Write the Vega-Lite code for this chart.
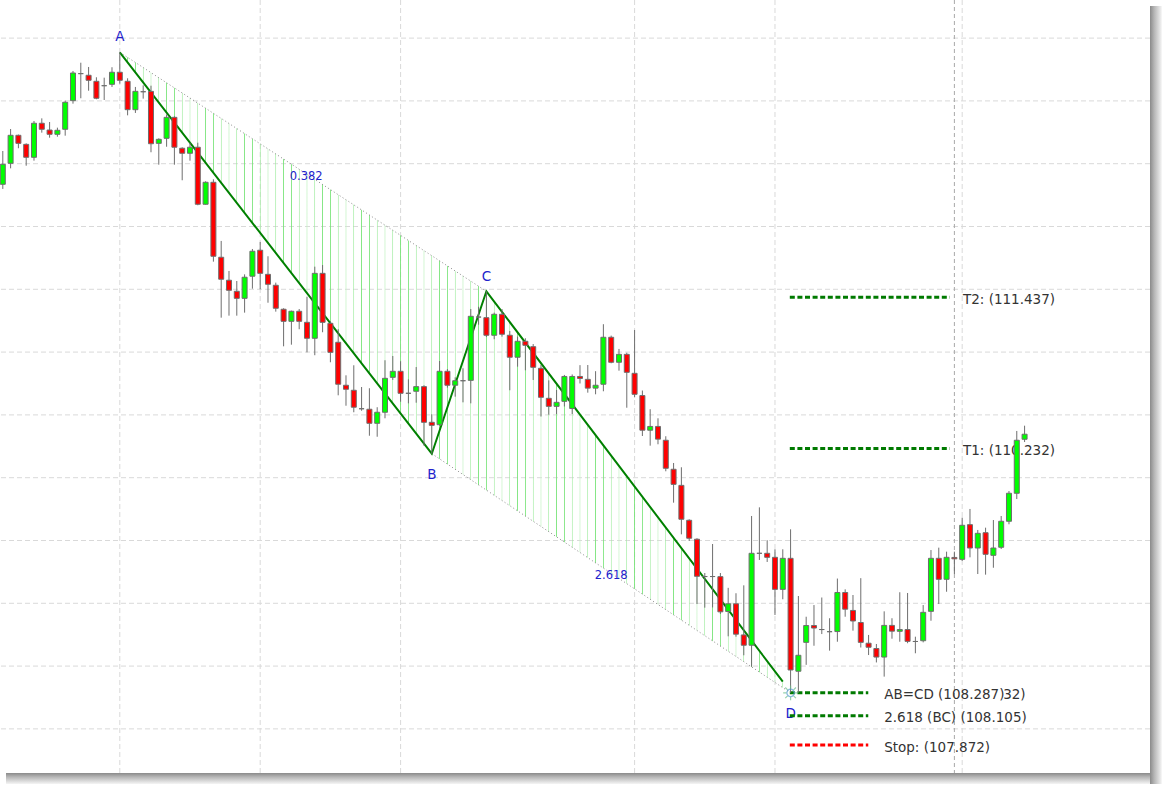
{
  "$schema": "https://vega.github.io/schema/vega-lite/v6.json",
  "width": 1150,
  "height": 773,
  "autosize": "none",
  "padding": {"left": 0, "top": 0, "right": 15, "bottom": 14},
  "background": "#ffffff",
  "config": {
    "view": {"stroke": null},
    "font": "DejaVu Sans",
    "scale": {"continuousPadding": 0},
    "axis": {"disable": true, "domain": false, "ticks": false, "labels": false, "grid": false, "titleOpacity": 0}
  },
  "datasets": {
    "candles": [
      {"x":0,"o":112.336,"h":112.601,"l":112.299,"c":112.495},
      {"x":1,"o":112.503,"h":112.776,"l":112.463,"c":112.726},
      {"x":2,"o":112.726,"h":112.732,"l":112.623,"c":112.662},
      {"x":3,"o":112.654,"h":112.662,"l":112.484,"c":112.551},
      {"x":4,"o":112.551,"h":112.840,"l":112.524,"c":112.822},
      {"x":5,"o":112.822,"h":112.861,"l":112.747,"c":112.774},
      {"x":6,"o":112.768,"h":112.832,"l":112.707,"c":112.734},
      {"x":7,"o":112.734,"h":112.787,"l":112.715,"c":112.766},
      {"x":8,"o":112.774,"h":113.002,"l":112.723,"c":112.989},
      {"x":9,"o":113.002,"h":113.238,"l":112.978,"c":113.222},
      {"x":10,"o":113.217,"h":113.304,"l":113.021,"c":113.217},
      {"x":11,"o":113.204,"h":113.270,"l":113.081,"c":113.164},
      {"x":12,"o":113.156,"h":113.188,"l":113.013,"c":113.021},
      {"x":13,"o":113.121,"h":113.185,"l":113.007,"c":113.121},
      {"x":14,"o":113.132,"h":113.268,"l":113.111,"c":113.228},
      {"x":15,"o":113.228,"h":113.387,"l":113.137,"c":113.164},
      {"x":16,"o":113.156,"h":113.180,"l":112.885,"c":112.930},
      {"x":17,"o":112.930,"h":113.111,"l":112.904,"c":113.076},
      {"x":18,"o":113.073,"h":113.124,"l":113.018,"c":113.073},
      {"x":19,"o":113.076,"h":113.121,"l":112.591,"c":112.659},
      {"x":20,"o":112.662,"h":112.702,"l":112.492,"c":112.694},
      {"x":21,"o":112.702,"h":112.893,"l":112.635,"c":112.869},
      {"x":22,"o":112.869,"h":112.877,"l":112.492,"c":112.631},
      {"x":23,"o":112.623,"h":112.631,"l":112.368,"c":112.583},
      {"x":24,"o":112.583,"h":112.667,"l":112.524,"c":112.631},
      {"x":25,"o":112.631,"h":112.667,"l":112.169,"c":112.177},
      {"x":26,"o":112.177,"h":112.360,"l":112.174,"c":112.352},
      {"x":27,"o":112.352,"h":112.376,"l":111.720,"c":111.763},
      {"x":28,"o":111.755,"h":111.885,"l":111.274,"c":111.580},
      {"x":29,"o":111.572,"h":111.646,"l":111.290,"c":111.492},
      {"x":30,"o":111.484,"h":111.566,"l":111.290,"c":111.428},
      {"x":31,"o":111.428,"h":111.619,"l":111.314,"c":111.596},
      {"x":32,"o":111.604,"h":111.821,"l":111.505,"c":111.803},
      {"x":33,"o":111.811,"h":111.877,"l":111.500,"c":111.627},
      {"x":34,"o":111.619,"h":111.763,"l":111.393,"c":111.540},
      {"x":35,"o":111.532,"h":111.553,"l":111.322,"c":111.349},
      {"x":36,"o":111.341,"h":111.349,"l":111.046,"c":111.245},
      {"x":37,"o":111.245,"h":111.330,"l":111.059,"c":111.325},
      {"x":38,"o":111.325,"h":111.343,"l":111.182,"c":111.245},
      {"x":39,"o":111.237,"h":111.441,"l":110.998,"c":111.110},
      {"x":40,"o":111.110,"h":111.680,"l":110.975,"c":111.627},
      {"x":41,"o":111.627,"h":111.693,"l":111.158,"c":111.237},
      {"x":42,"o":111.229,"h":111.245,"l":110.919,"c":110.998},
      {"x":43,"o":111.078,"h":111.182,"l":110.656,"c":110.744},
      {"x":44,"o":110.736,"h":110.815,"l":110.573,"c":110.704},
      {"x":45,"o":110.696,"h":110.895,"l":110.521,"c":110.561},
      {"x":46,"o":110.549,"h":110.722,"l":110.533,"c":110.549},
      {"x":47,"o":110.545,"h":110.712,"l":110.334,"c":110.433},
      {"x":48,"o":110.433,"h":110.561,"l":110.326,"c":110.521},
      {"x":49,"o":110.521,"h":110.935,"l":110.473,"c":110.791},
      {"x":50,"o":110.799,"h":110.969,"l":110.778,"c":110.847},
      {"x":51,"o":110.847,"h":110.927,"l":110.605,"c":110.672},
      {"x":52,"o":110.672,"h":110.783,"l":110.592,"c":110.672},
      {"x":53,"o":110.688,"h":110.881,"l":110.597,"c":110.725},
      {"x":54,"o":110.725,"h":110.736,"l":110.255,"c":110.441},
      {"x":55,"o":110.441,"h":110.505,"l":110.191,"c":110.417},
      {"x":56,"o":110.422,"h":110.929,"l":110.414,"c":110.847},
      {"x":57,"o":110.847,"h":110.865,"l":110.717,"c":110.736},
      {"x":58,"o":110.736,"h":110.799,"l":110.645,"c":110.772},
      {"x":59,"o":110.772,"h":110.871,"l":110.600,"c":110.772},
      {"x":60,"o":110.775,"h":111.343,"l":110.592,"c":111.285},
      {"x":61,"o":111.279,"h":111.361,"l":111.218,"c":111.279},
      {"x":62,"o":111.274,"h":111.484,"l":111.120,"c":111.134},
      {"x":63,"o":111.134,"h":111.314,"l":111.102,"c":111.301},
      {"x":64,"o":111.301,"h":111.343,"l":111.123,"c":111.142},
      {"x":65,"o":111.134,"h":111.168,"l":110.696,"c":110.959},
      {"x":66,"o":110.959,"h":111.123,"l":110.884,"c":111.086},
      {"x":67,"o":111.086,"h":111.110,"l":110.855,"c":111.054},
      {"x":68,"o":111.043,"h":111.064,"l":110.778,"c":110.879},
      {"x":69,"o":110.871,"h":110.897,"l":110.487,"c":110.640},
      {"x":70,"o":110.632,"h":110.775,"l":110.502,"c":110.568},
      {"x":71,"o":110.568,"h":110.698,"l":110.507,"c":110.600},
      {"x":72,"o":110.608,"h":110.818,"l":110.567,"c":110.806},
      {"x":73,"o":110.551,"h":110.822,"l":110.507,"c":110.806},
      {"x":74,"o":110.806,"h":110.896,"l":110.750,"c":110.790},
      {"x":75,"o":110.783,"h":110.897,"l":110.677,"c":110.713},
      {"x":76,"o":110.713,"h":110.848,"l":110.664,"c":110.736},
      {"x":77,"o":110.744,"h":111.222,"l":110.688,"c":111.118},
      {"x":78,"o":111.118,"h":111.131,"l":110.911,"c":110.919},
      {"x":79,"o":110.919,"h":111.025,"l":110.852,"c":110.982},
      {"x":80,"o":110.982,"h":110.995,"l":110.557,"c":110.839},
      {"x":81,"o":110.831,"h":111.176,"l":110.640,"c":110.664},
      {"x":82,"o":110.654,"h":110.694,"l":110.332,"c":110.378},
      {"x":83,"o":110.378,"h":110.545,"l":110.255,"c":110.408},
      {"x":84,"o":110.408,"h":110.473,"l":110.266,"c":110.307},
      {"x":85,"o":110.298,"h":110.330,"l":110.051,"c":110.075},
      {"x":86,"o":110.067,"h":110.117,"l":109.801,"c":109.947},
      {"x":87,"o":109.939,"h":110.083,"l":109.549,"c":109.669},
      {"x":88,"o":109.661,"h":109.669,"l":109.496,"c":109.518},
      {"x":89,"o":109.510,"h":109.518,"l":108.994,"c":109.215},
      {"x":90,"o":109.213,"h":109.241,"l":108.965,"c":109.213},
      {"x":91,"o":109.213,"h":109.472,"l":108.967,"c":109.213},
      {"x":92,"o":109.212,"h":109.241,"l":108.915,"c":108.932},
      {"x":93,"o":108.935,"h":109.123,"l":108.737,"c":108.996},
      {"x":94,"o":108.996,"h":109.080,"l":108.734,"c":108.754},
      {"x":95,"o":108.748,"h":109.143,"l":108.586,"c":108.666},
      {"x":96,"o":108.666,"h":109.695,"l":108.495,"c":109.398},
      {"x":97,"o":109.398,"h":109.764,"l":109.345,"c":109.398},
      {"x":98,"o":109.398,"h":109.502,"l":109.329,"c":109.366},
      {"x":99,"o":109.366,"h":109.430,"l":108.907,"c":109.111},
      {"x":100,"o":109.111,"h":109.430,"l":109.032,"c":109.358},
      {"x":101,"o":109.358,"h":109.589,"l":108.287,"c":108.469},
      {"x":102,"o":108.459,"h":109.058,"l":108.288,"c":108.586},
      {"x":103,"o":108.689,"h":108.893,"l":108.510,"c":108.823},
      {"x":104,"o":108.823,"h":108.986,"l":108.662,"c":108.803},
      {"x":105,"o":108.791,"h":109.046,"l":108.755,"c":108.791},
      {"x":106,"o":108.774,"h":108.881,"l":108.623,"c":108.774},
      {"x":107,"o":108.775,"h":109.197,"l":108.694,"c":109.086},
      {"x":108,"o":109.086,"h":109.111,"l":108.893,"c":108.953},
      {"x":109,"o":108.943,"h":109.066,"l":108.782,"c":108.859},
      {"x":110,"o":108.847,"h":109.200,"l":108.648,"c":108.689},
      {"x":111,"o":108.682,"h":108.748,"l":108.588,"c":108.650},
      {"x":112,"o":108.640,"h":108.676,"l":108.529,"c":108.572},
      {"x":113,"o":108.572,"h":108.936,"l":108.416,"c":108.824},
      {"x":114,"o":108.824,"h":108.881,"l":108.718,"c":108.778},
      {"x":115,"o":108.777,"h":109.088,"l":108.694,"c":108.791},
      {"x":116,"o":108.791,"h":109.082,"l":108.682,"c":108.697},
      {"x":117,"o":108.696,"h":108.734,"l":108.602,"c":108.696},
      {"x":118,"o":108.702,"h":108.986,"l":108.689,"c":108.928},
      {"x":119,"o":108.936,"h":109.424,"l":108.861,"c":109.358},
      {"x":120,"o":109.358,"h":109.443,"l":108.994,"c":109.191},
      {"x":121,"o":109.191,"h":109.411,"l":109.092,"c":109.366},
      {"x":122,"o":109.365,"h":109.411,"l":109.233,"c":109.354},
      {"x":123,"o":109.350,"h":109.682,"l":109.337,"c":109.621},
      {"x":124,"o":109.626,"h":109.751,"l":109.366,"c":109.440},
      {"x":125,"o":109.440,"h":109.584,"l":109.233,"c":109.557},
      {"x":126,"o":109.562,"h":109.602,"l":109.228,"c":109.390},
      {"x":127,"o":109.382,"h":109.663,"l":109.283,"c":109.440},
      {"x":128,"o":109.446,"h":109.695,"l":109.432,"c":109.653},
      {"x":129,"o":109.653,"h":109.894,"l":109.629,"c":109.876},
      {"x":130,"o":109.876,"h":110.372,"l":109.830,"c":110.298},
      {"x":131,"o":110.306,"h":110.414,"l":110.284,"c":110.346}
    ],
    "hgrid": [{"p":108},{"p":108.5},{"p":109},{"p":109.5},{"p":110},{"p":110.5},{"p":111},{"p":111.5},{"p":112},{"p":112.5},{"p":113},{"p":113.5}],
    "vgrid": [{"x":15},{"x":33},{"x":51},{"x":81},{"x":99},{"x":123}],
    "sep": [{"x":122}],
    "fillABC": [
      {"x":15,"lo":113.387,"hi":113.387},
      {"x":55,"lo":110.191,"hi":111.767},
      {"x":62,"lo":111.484,"hi":111.484}
    ],
    "fillBCD": [
      {"x":55,"lo":110.191,"hi":110.191},
      {"x":62,"lo":109.901,"hi":111.484},
      {"x":101,"lo":108.287,"hi":108.287}
    ],
    "dotted": [
      {"x":15,"p":113.387,"s":"AC"},
      {"x":62,"p":111.484,"s":"AC"},
      {"x":55,"p":110.191,"s":"BD"},
      {"x":101,"p":108.287,"s":"BD"}
    ],
    "pattern": [
      {"x":15,"p":113.387},
      {"x":55,"p":110.191},
      {"x":62,"p":111.484},
      {"x":100,"p":108.376}
    ],
    "points": [
      {"x":15,"p":113.477,"t":"A"},
      {"x":55,"p":109.992,"t":"B"},
      {"x":62,"p":111.568,"t":"C"},
      {"x":101,"p":108.089,"t":"D"}
    ],
    "ratios": [
      {"x":38.9,"p":112.370,"t":"0.382"},
      {"x":78.0,"p":109.193,"t":"2.618"}
    ],
    "levels": [
      {"x":100.9,"x2":121.4,"p":111.437,"k":"target"},
      {"x":100.9,"x2":121.4,"p":110.232,"k":"target"},
      {"x":100.9,"x2":110.96,"p":108.287,"k":"target"},
      {"x":100.9,"x2":110.96,"p":108.105,"k":"target"},
      {"x":100.9,"x2":110.96,"p":107.872,"k":"stop"}
    ],
    "levelLabels": [
      {"x":123.1,"p":111.381,"t":"T2: (111.437)"},
      {"x":123.1,"p":110.178,"t":"T1: (110.232)"},
      {"x":113.0,"p":108.238,"t":"AB=CD (108.287)"},
      {"x":128.25,"p":108.238,"t":"32)"},
      {"x":113.0,"p":108.053,"t":"2.618 (BC) (108.105)"},
      {"x":113.0,"p":107.818,"t":"Stop: (107.872)"}
    ],
    "dpoint": [{"x":101,"p":108.287}]
  },
  "layer": [
    {
      "data": {"name": "hgrid"},
      "mark": {"type": "rule", "color": "#d9d9d9", "strokeWidth": 1, "strokeDash": [5, 3]},
      "encoding": {
        "y": {"field": "p", "type": "quantitative", "scale": {"domain": [107.6488, 113.8033], "nice": false, "zero": false, "padding": 0}}
      }
    },
    {
      "data": {"name": "vgrid"},
      "mark": {"type": "rule", "color": "#d9d9d9", "strokeWidth": 1, "strokeDash": [5, 3]},
      "encoding": {
        "x": {"field": "x", "type": "quantitative", "scale": {"domain": [-0.359, 147.08], "nice": false, "zero": false, "padding": 0}}
      }
    },
    {
      "data": {"name": "sep"},
      "mark": {"type": "rule", "color": "#a8a8a8", "strokeWidth": 1, "strokeDash": [4, 3]},
      "encoding": {
        "x": {"field": "x", "type": "quantitative", "scale": {"domain": [-0.359, 147.08], "nice": false, "zero": false, "padding": 0}}
      }
    },
    {
      "data": {"name": "fillABC"},
      "mark": {"type": "area", "interpolate": "linear", "fill": {"gradient": "linear", "x1": 0, "x2": 1, "y1": 0, "y2": 0, "stops": [
        {"offset":0.01908,"color":"rgba(255,255,255,0)"},{"offset":0.02128,"color":"#66e066"},{"offset":0.02348,"color":"rgba(255,255,255,0)"},
        {"offset":0.04035,"color":"rgba(255,255,255,0)"},{"offset":0.04255,"color":"#66e066"},{"offset":0.04475,"color":"rgba(255,255,255,0)"},
        {"offset":0.06163,"color":"rgba(255,255,255,0)"},{"offset":0.06383,"color":"#66e066"},{"offset":0.06603,"color":"rgba(255,255,255,0)"},
        {"offset":0.08291,"color":"rgba(255,255,255,0)"},{"offset":0.08511,"color":"#66e066"},{"offset":0.08731,"color":"rgba(255,255,255,0)"},
        {"offset":0.10418,"color":"rgba(255,255,255,0)"},{"offset":0.10638,"color":"#66e066"},{"offset":0.10858,"color":"rgba(255,255,255,0)"},
        {"offset":0.12546,"color":"rgba(255,255,255,0)"},{"offset":0.12766,"color":"#66e066"},{"offset":0.12986,"color":"rgba(255,255,255,0)"},
        {"offset":0.14674,"color":"rgba(255,255,255,0)"},{"offset":0.14894,"color":"#66e066"},{"offset":0.15114,"color":"rgba(255,255,255,0)"},
        {"offset":0.16801,"color":"rgba(255,255,255,0)"},{"offset":0.17021,"color":"#66e066"},{"offset":0.17241,"color":"rgba(255,255,255,0)"},
        {"offset":0.18929,"color":"rgba(255,255,255,0)"},{"offset":0.19149,"color":"#66e066"},{"offset":0.19369,"color":"rgba(255,255,255,0)"},
        {"offset":0.21057,"color":"rgba(255,255,255,0)"},{"offset":0.21277,"color":"#66e066"},{"offset":0.21497,"color":"rgba(255,255,255,0)"},
        {"offset":0.23184,"color":"rgba(255,255,255,0)"},{"offset":0.23404,"color":"#66e066"},{"offset":0.23624,"color":"rgba(255,255,255,0)"},
        {"offset":0.25312,"color":"rgba(255,255,255,0)"},{"offset":0.25532,"color":"#66e066"},{"offset":0.25752,"color":"rgba(255,255,255,0)"},
        {"offset":0.27440,"color":"rgba(255,255,255,0)"},{"offset":0.27660,"color":"#66e066"},{"offset":0.27880,"color":"rgba(255,255,255,0)"},
        {"offset":0.29567,"color":"rgba(255,255,255,0)"},{"offset":0.29787,"color":"#66e066"},{"offset":0.30007,"color":"rgba(255,255,255,0)"},
        {"offset":0.31695,"color":"rgba(255,255,255,0)"},{"offset":0.31915,"color":"#66e066"},{"offset":0.32135,"color":"rgba(255,255,255,0)"},
        {"offset":0.33823,"color":"rgba(255,255,255,0)"},{"offset":0.34043,"color":"#66e066"},{"offset":0.34263,"color":"rgba(255,255,255,0)"},
        {"offset":0.35950,"color":"rgba(255,255,255,0)"},{"offset":0.36170,"color":"#66e066"},{"offset":0.36390,"color":"rgba(255,255,255,0)"},
        {"offset":0.38078,"color":"rgba(255,255,255,0)"},{"offset":0.38298,"color":"#66e066"},{"offset":0.38518,"color":"rgba(255,255,255,0)"},
        {"offset":0.40206,"color":"rgba(255,255,255,0)"},{"offset":0.40426,"color":"#66e066"},{"offset":0.40646,"color":"rgba(255,255,255,0)"},
        {"offset":0.42333,"color":"rgba(255,255,255,0)"},{"offset":0.42553,"color":"#66e066"},{"offset":0.42773,"color":"rgba(255,255,255,0)"},
        {"offset":0.44461,"color":"rgba(255,255,255,0)"},{"offset":0.44681,"color":"#66e066"},{"offset":0.44901,"color":"rgba(255,255,255,0)"},
        {"offset":0.46589,"color":"rgba(255,255,255,0)"},{"offset":0.46809,"color":"#66e066"},{"offset":0.47029,"color":"rgba(255,255,255,0)"},
        {"offset":0.48716,"color":"rgba(255,255,255,0)"},{"offset":0.48936,"color":"#66e066"},{"offset":0.49156,"color":"rgba(255,255,255,0)"},
        {"offset":0.50844,"color":"rgba(255,255,255,0)"},{"offset":0.51064,"color":"#66e066"},{"offset":0.51284,"color":"rgba(255,255,255,0)"},
        {"offset":0.52971,"color":"rgba(255,255,255,0)"},{"offset":0.53191,"color":"#66e066"},{"offset":0.53411,"color":"rgba(255,255,255,0)"},
        {"offset":0.55099,"color":"rgba(255,255,255,0)"},{"offset":0.55319,"color":"#66e066"},{"offset":0.55539,"color":"rgba(255,255,255,0)"},
        {"offset":0.57227,"color":"rgba(255,255,255,0)"},{"offset":0.57447,"color":"#66e066"},{"offset":0.57667,"color":"rgba(255,255,255,0)"},
        {"offset":0.59354,"color":"rgba(255,255,255,0)"},{"offset":0.59574,"color":"#66e066"},{"offset":0.59794,"color":"rgba(255,255,255,0)"},
        {"offset":0.61482,"color":"rgba(255,255,255,0)"},{"offset":0.61702,"color":"#66e066"},{"offset":0.61922,"color":"rgba(255,255,255,0)"},
        {"offset":0.63610,"color":"rgba(255,255,255,0)"},{"offset":0.63830,"color":"#66e066"},{"offset":0.64050,"color":"rgba(255,255,255,0)"},
        {"offset":0.65737,"color":"rgba(255,255,255,0)"},{"offset":0.65957,"color":"#66e066"},{"offset":0.66177,"color":"rgba(255,255,255,0)"},
        {"offset":0.67865,"color":"rgba(255,255,255,0)"},{"offset":0.68085,"color":"#66e066"},{"offset":0.68305,"color":"rgba(255,255,255,0)"},
        {"offset":0.69993,"color":"rgba(255,255,255,0)"},{"offset":0.70213,"color":"#66e066"},{"offset":0.70433,"color":"rgba(255,255,255,0)"},
        {"offset":0.72120,"color":"rgba(255,255,255,0)"},{"offset":0.72340,"color":"#66e066"},{"offset":0.72560,"color":"rgba(255,255,255,0)"},
        {"offset":0.74248,"color":"rgba(255,255,255,0)"},{"offset":0.74468,"color":"#66e066"},{"offset":0.74688,"color":"rgba(255,255,255,0)"},
        {"offset":0.76376,"color":"rgba(255,255,255,0)"},{"offset":0.76596,"color":"#66e066"},{"offset":0.76816,"color":"rgba(255,255,255,0)"},
        {"offset":0.78503,"color":"rgba(255,255,255,0)"},{"offset":0.78723,"color":"#66e066"},{"offset":0.78943,"color":"rgba(255,255,255,0)"},
        {"offset":0.80631,"color":"rgba(255,255,255,0)"},{"offset":0.80851,"color":"#66e066"},{"offset":0.81071,"color":"rgba(255,255,255,0)"},
        {"offset":0.82759,"color":"rgba(255,255,255,0)"},{"offset":0.82979,"color":"#66e066"},{"offset":0.83199,"color":"rgba(255,255,255,0)"},
        {"offset":0.84886,"color":"rgba(255,255,255,0)"},{"offset":0.85106,"color":"#66e066"},{"offset":0.85326,"color":"rgba(255,255,255,0)"},
        {"offset":0.87014,"color":"rgba(255,255,255,0)"},{"offset":0.87234,"color":"#66e066"},{"offset":0.87454,"color":"rgba(255,255,255,0)"},
        {"offset":0.89142,"color":"rgba(255,255,255,0)"},{"offset":0.89362,"color":"#66e066"},{"offset":0.89582,"color":"rgba(255,255,255,0)"},
        {"offset":0.91269,"color":"rgba(255,255,255,0)"},{"offset":0.91489,"color":"#66e066"},{"offset":0.91709,"color":"rgba(255,255,255,0)"},
        {"offset":0.93397,"color":"rgba(255,255,255,0)"},{"offset":0.93617,"color":"#66e066"},{"offset":0.93837,"color":"rgba(255,255,255,0)"},
        {"offset":0.95525,"color":"rgba(255,255,255,0)"},{"offset":0.95745,"color":"#66e066"},{"offset":0.95965,"color":"rgba(255,255,255,0)"},
        {"offset":0.97652,"color":"rgba(255,255,255,0)"},{"offset":0.97872,"color":"#66e066"},{"offset":0.98092,"color":"rgba(255,255,255,0)"}
      ]}},
      "encoding": {
        "x": {"field": "x", "type": "quantitative", "scale": {"domain": [-0.359, 147.08], "nice": false, "zero": false, "padding": 0}},
        "y": {"field": "lo", "type": "quantitative", "scale": {"domain": [107.6488, 113.8033], "nice": false, "zero": false, "padding": 0}},
        "y2": {"field": "hi"}
      }
    },
    {
      "data": {"name": "fillBCD"},
      "mark": {"type": "area", "interpolate": "linear", "fill": {"gradient": "linear", "x1": 0, "x2": 1, "y1": 0, "y2": 0, "stops": [
        {"offset":0.01954,"color":"rgba(255,255,255,0)"},{"offset":0.02174,"color":"#66e066"},{"offset":0.02394,"color":"rgba(255,255,255,0)"},
        {"offset":0.04128,"color":"rgba(255,255,255,0)"},{"offset":0.04348,"color":"#66e066"},{"offset":0.04568,"color":"rgba(255,255,255,0)"},
        {"offset":0.06302,"color":"rgba(255,255,255,0)"},{"offset":0.06522,"color":"#66e066"},{"offset":0.06742,"color":"rgba(255,255,255,0)"},
        {"offset":0.08476,"color":"rgba(255,255,255,0)"},{"offset":0.08696,"color":"#66e066"},{"offset":0.08916,"color":"rgba(255,255,255,0)"},
        {"offset":0.10650,"color":"rgba(255,255,255,0)"},{"offset":0.10870,"color":"#66e066"},{"offset":0.11090,"color":"rgba(255,255,255,0)"},
        {"offset":0.12823,"color":"rgba(255,255,255,0)"},{"offset":0.13043,"color":"#66e066"},{"offset":0.13263,"color":"rgba(255,255,255,0)"},
        {"offset":0.14997,"color":"rgba(255,255,255,0)"},{"offset":0.15217,"color":"#66e066"},{"offset":0.15437,"color":"rgba(255,255,255,0)"},
        {"offset":0.17171,"color":"rgba(255,255,255,0)"},{"offset":0.17391,"color":"#66e066"},{"offset":0.17611,"color":"rgba(255,255,255,0)"},
        {"offset":0.19345,"color":"rgba(255,255,255,0)"},{"offset":0.19565,"color":"#66e066"},{"offset":0.19785,"color":"rgba(255,255,255,0)"},
        {"offset":0.21519,"color":"rgba(255,255,255,0)"},{"offset":0.21739,"color":"#66e066"},{"offset":0.21959,"color":"rgba(255,255,255,0)"},
        {"offset":0.23693,"color":"rgba(255,255,255,0)"},{"offset":0.23913,"color":"#66e066"},{"offset":0.24133,"color":"rgba(255,255,255,0)"},
        {"offset":0.25867,"color":"rgba(255,255,255,0)"},{"offset":0.26087,"color":"#66e066"},{"offset":0.26307,"color":"rgba(255,255,255,0)"},
        {"offset":0.28041,"color":"rgba(255,255,255,0)"},{"offset":0.28261,"color":"#66e066"},{"offset":0.28481,"color":"rgba(255,255,255,0)"},
        {"offset":0.30215,"color":"rgba(255,255,255,0)"},{"offset":0.30435,"color":"#66e066"},{"offset":0.30655,"color":"rgba(255,255,255,0)"},
        {"offset":0.32389,"color":"rgba(255,255,255,0)"},{"offset":0.32609,"color":"#66e066"},{"offset":0.32829,"color":"rgba(255,255,255,0)"},
        {"offset":0.34563,"color":"rgba(255,255,255,0)"},{"offset":0.34783,"color":"#66e066"},{"offset":0.35003,"color":"rgba(255,255,255,0)"},
        {"offset":0.36737,"color":"rgba(255,255,255,0)"},{"offset":0.36957,"color":"#66e066"},{"offset":0.37177,"color":"rgba(255,255,255,0)"},
        {"offset":0.38910,"color":"rgba(255,255,255,0)"},{"offset":0.39130,"color":"#66e066"},{"offset":0.39350,"color":"rgba(255,255,255,0)"},
        {"offset":0.41084,"color":"rgba(255,255,255,0)"},{"offset":0.41304,"color":"#66e066"},{"offset":0.41524,"color":"rgba(255,255,255,0)"},
        {"offset":0.43258,"color":"rgba(255,255,255,0)"},{"offset":0.43478,"color":"#66e066"},{"offset":0.43698,"color":"rgba(255,255,255,0)"},
        {"offset":0.45432,"color":"rgba(255,255,255,0)"},{"offset":0.45652,"color":"#66e066"},{"offset":0.45872,"color":"rgba(255,255,255,0)"},
        {"offset":0.47606,"color":"rgba(255,255,255,0)"},{"offset":0.47826,"color":"#66e066"},{"offset":0.48046,"color":"rgba(255,255,255,0)"},
        {"offset":0.49780,"color":"rgba(255,255,255,0)"},{"offset":0.50000,"color":"#66e066"},{"offset":0.50220,"color":"rgba(255,255,255,0)"},
        {"offset":0.51954,"color":"rgba(255,255,255,0)"},{"offset":0.52174,"color":"#66e066"},{"offset":0.52394,"color":"rgba(255,255,255,0)"},
        {"offset":0.54128,"color":"rgba(255,255,255,0)"},{"offset":0.54348,"color":"#66e066"},{"offset":0.54568,"color":"rgba(255,255,255,0)"},
        {"offset":0.56302,"color":"rgba(255,255,255,0)"},{"offset":0.56522,"color":"#66e066"},{"offset":0.56742,"color":"rgba(255,255,255,0)"},
        {"offset":0.58476,"color":"rgba(255,255,255,0)"},{"offset":0.58696,"color":"#66e066"},{"offset":0.58916,"color":"rgba(255,255,255,0)"},
        {"offset":0.60650,"color":"rgba(255,255,255,0)"},{"offset":0.60870,"color":"#66e066"},{"offset":0.61090,"color":"rgba(255,255,255,0)"},
        {"offset":0.62823,"color":"rgba(255,255,255,0)"},{"offset":0.63043,"color":"#66e066"},{"offset":0.63263,"color":"rgba(255,255,255,0)"},
        {"offset":0.64997,"color":"rgba(255,255,255,0)"},{"offset":0.65217,"color":"#66e066"},{"offset":0.65437,"color":"rgba(255,255,255,0)"},
        {"offset":0.67171,"color":"rgba(255,255,255,0)"},{"offset":0.67391,"color":"#66e066"},{"offset":0.67611,"color":"rgba(255,255,255,0)"},
        {"offset":0.69345,"color":"rgba(255,255,255,0)"},{"offset":0.69565,"color":"#66e066"},{"offset":0.69785,"color":"rgba(255,255,255,0)"},
        {"offset":0.71519,"color":"rgba(255,255,255,0)"},{"offset":0.71739,"color":"#66e066"},{"offset":0.71959,"color":"rgba(255,255,255,0)"},
        {"offset":0.73693,"color":"rgba(255,255,255,0)"},{"offset":0.73913,"color":"#66e066"},{"offset":0.74133,"color":"rgba(255,255,255,0)"},
        {"offset":0.75867,"color":"rgba(255,255,255,0)"},{"offset":0.76087,"color":"#66e066"},{"offset":0.76307,"color":"rgba(255,255,255,0)"},
        {"offset":0.78041,"color":"rgba(255,255,255,0)"},{"offset":0.78261,"color":"#66e066"},{"offset":0.78481,"color":"rgba(255,255,255,0)"},
        {"offset":0.80215,"color":"rgba(255,255,255,0)"},{"offset":0.80435,"color":"#66e066"},{"offset":0.80655,"color":"rgba(255,255,255,0)"},
        {"offset":0.82389,"color":"rgba(255,255,255,0)"},{"offset":0.82609,"color":"#66e066"},{"offset":0.82829,"color":"rgba(255,255,255,0)"},
        {"offset":0.84563,"color":"rgba(255,255,255,0)"},{"offset":0.84783,"color":"#66e066"},{"offset":0.85003,"color":"rgba(255,255,255,0)"},
        {"offset":0.86737,"color":"rgba(255,255,255,0)"},{"offset":0.86957,"color":"#66e066"},{"offset":0.87177,"color":"rgba(255,255,255,0)"},
        {"offset":0.88910,"color":"rgba(255,255,255,0)"},{"offset":0.89130,"color":"#66e066"},{"offset":0.89350,"color":"rgba(255,255,255,0)"},
        {"offset":0.91084,"color":"rgba(255,255,255,0)"},{"offset":0.91304,"color":"#66e066"},{"offset":0.91524,"color":"rgba(255,255,255,0)"},
        {"offset":0.93258,"color":"rgba(255,255,255,0)"},{"offset":0.93478,"color":"#66e066"},{"offset":0.93698,"color":"rgba(255,255,255,0)"},
        {"offset":0.95432,"color":"rgba(255,255,255,0)"},{"offset":0.95652,"color":"#66e066"},{"offset":0.95872,"color":"rgba(255,255,255,0)"},
        {"offset":0.97606,"color":"rgba(255,255,255,0)"},{"offset":0.97826,"color":"#66e066"},{"offset":0.98046,"color":"rgba(255,255,255,0)"}
      ]}},
      "encoding": {
        "x": {"field": "x", "type": "quantitative", "scale": {"domain": [-0.359, 147.08], "nice": false, "zero": false, "padding": 0}},
        "y": {"field": "lo", "type": "quantitative", "scale": {"domain": [107.6488, 113.8033], "nice": false, "zero": false, "padding": 0}},
        "y2": {"field": "hi"}
      }
    },
    {
      "data": {"name": "dotted"},
      "mark": {"type": "line", "color": "#8a8a8a", "strokeWidth": 1, "strokeDash": [1, 2.5]},
      "encoding": {
        "x": {"field": "x", "type": "quantitative", "scale": {"domain": [-0.359, 147.08], "nice": false, "zero": false, "padding": 0}},
        "y": {"field": "p", "type": "quantitative", "scale": {"domain": [107.6488, 113.8033], "nice": false, "zero": false, "padding": 0}},
        "detail": {"field": "s", "type": "nominal"}
      }
    },
    {
      "data": {"name": "pattern"},
      "mark": {"type": "line", "color": "#008000", "strokeWidth": 2},
      "encoding": {
        "x": {"field": "x", "type": "quantitative", "scale": {"domain": [-0.359, 147.08], "nice": false, "zero": false, "padding": 0}},
        "y": {"field": "p", "type": "quantitative", "scale": {"domain": [107.6488, 113.8033], "nice": false, "zero": false, "padding": 0}}
      }
    },
    {
      "data": {"name": "points"},
      "mark": {"type": "text", "color": "#2222cc", "fontSize": 13.5, "align": "center", "baseline": "alphabetic"},
      "encoding": {
        "x": {"field": "x", "type": "quantitative", "scale": {"domain": [-0.359, 147.08], "nice": false, "zero": false, "padding": 0}},
        "y": {"field": "p", "type": "quantitative", "scale": {"domain": [107.6488, 113.8033], "nice": false, "zero": false, "padding": 0}},
        "text": {"field": "t"}
      }
    },
    {
      "data": {"name": "ratios"},
      "mark": {"type": "text", "color": "#2222cc", "fontSize": 11.5, "align": "center", "baseline": "alphabetic"},
      "encoding": {
        "x": {"field": "x", "type": "quantitative", "scale": {"domain": [-0.359, 147.08], "nice": false, "zero": false, "padding": 0}},
        "y": {"field": "p", "type": "quantitative", "scale": {"domain": [107.6488, 113.8033], "nice": false, "zero": false, "padding": 0}},
        "text": {"field": "t"}
      }
    },
    {
      "data": {"name": "levels"},
      "mark": {"type": "rule", "strokeWidth": 3, "strokeDash": [5, 2.6]},
      "encoding": {
        "x": {"field": "x", "type": "quantitative", "scale": {"domain": [-0.359, 147.08], "nice": false, "zero": false, "padding": 0}},
        "x2": {"field": "x2"},
        "y": {"field": "p", "type": "quantitative", "scale": {"domain": [107.6488, 113.8033], "nice": false, "zero": false, "padding": 0}},
        "color": {"field": "k", "type": "nominal", "scale": {"domain": ["target", "stop"], "range": ["#007a00", "#ff0000"]}, "legend": null}
      }
    },
    {
      "data": {"name": "levelLabels"},
      "mark": {"type": "text", "color": "#333333", "fontSize": 13.5, "align": "left", "baseline": "alphabetic"},
      "encoding": {
        "x": {"field": "x", "type": "quantitative", "scale": {"domain": [-0.359, 147.08], "nice": false, "zero": false, "padding": 0}},
        "y": {"field": "p", "type": "quantitative", "scale": {"domain": [107.6488, 113.8033], "nice": false, "zero": false, "padding": 0}},
        "text": {"field": "t"}
      }
    },
    {
      "data": {"name": "candles"},
      "mark": {"type": "rule", "color": "#6e6e6e", "strokeWidth": 1},
      "encoding": {
        "x": {"field": "x", "type": "quantitative", "scale": {"domain": [-0.359, 147.08], "nice": false, "zero": false, "padding": 0}},
        "y": {"field": "h", "type": "quantitative", "scale": {"domain": [107.6488, 113.8033], "nice": false, "zero": false, "padding": 0}},
        "y2": {"field": "l"}
      }
    },
    {
      "data": {"name": "candles"},
      "mark": {"type": "bar", "size": 5, "stroke": "#6e6e6e", "strokeWidth": 1},
      "encoding": {
        "x": {"field": "x", "type": "quantitative", "scale": {"domain": [-0.359, 147.08], "nice": false, "zero": false, "padding": 0}},
        "y": {"field": "o", "type": "quantitative", "scale": {"domain": [107.6488, 113.8033], "nice": false, "zero": false, "padding": 0}},
        "y2": {"field": "c"},
        "fill": {"condition": {"test": "datum.c >= datum.o", "value": "#00ff00"}, "value": "#ff0000"}
      }
    },
    {
      "data": {"name": "dpoint"},
      "mark": {"type": "point", "shape": "M-1,0L-0.55,0M0.55,0L1,0M0,-1L0,-0.55M0,0.55L0,1M-0.72,-0.72L-0.4,-0.4M0.4,0.4L0.72,0.72M-0.72,0.72L-0.4,0.4M0.4,-0.4L0.72,-0.72", "size": 220, "filled": false, "stroke": "#6cc08a", "strokeWidth": 1.2},
      "encoding": {
        "x": {"field": "x", "type": "quantitative", "scale": {"domain": [-0.359, 147.08], "nice": false, "zero": false, "padding": 0}},
        "y": {"field": "p", "type": "quantitative", "scale": {"domain": [107.6488, 113.8033], "nice": false, "zero": false, "padding": 0}}
      }
    },
    {
      "data": {"name": "dpoint"},
      "mark": {"type": "point", "shape": "circle", "size": 55, "filled": false, "stroke": "#5a9fd0", "strokeWidth": 1.3},
      "encoding": {
        "x": {"field": "x", "type": "quantitative", "scale": {"domain": [-0.359, 147.08], "nice": false, "zero": false, "padding": 0}},
        "y": {"field": "p", "type": "quantitative", "scale": {"domain": [107.6488, 113.8033], "nice": false, "zero": false, "padding": 0}}
      }
    },
    {
      "data": {"values": [{}]},
      "mark": {"type": "rect", "fill": {"gradient": "linear", "x1": 0, "x2": 1, "y1": 0, "y2": 0, "stops": [{"offset": 0, "color": "#8a8a8a"}, {"offset": 0.35, "color": "#b5b5b5"}, {"offset": 1, "color": "#f5f5f5"}]}},
      "encoding": {
        "x": {"datum": 147.08, "type": "quantitative", "scale": {"domain": [-0.359, 147.08], "nice": false, "zero": false, "padding": 0}},
        "x2": {"datum": 148.6},
        "y": {"datum": 113.756, "type": "quantitative", "scale": {"domain": [107.6488, 113.8033], "nice": false, "zero": false, "padding": 0}},
        "y2": {"datum": 107.561}
      }
    },
    {
      "data": {"values": [{}]},
      "mark": {"type": "rect", "fill": {"gradient": "linear", "x1": 0, "x2": 0, "y1": 0, "y2": 1, "stops": [{"offset": 0, "color": "#8a8a8a"}, {"offset": 0.35, "color": "#b5b5b5"}, {"offset": 1, "color": "#f5f5f5"}]}},
      "encoding": {
        "x": {"datum": 0.41, "type": "quantitative", "scale": {"domain": [-0.359, 147.08], "nice": false, "zero": false, "padding": 0}},
        "x2": {"datum": 147.08},
        "y": {"datum": 107.6488, "type": "quantitative", "scale": {"domain": [107.6488, 113.8033], "nice": false, "zero": false, "padding": 0}},
        "y2": {"datum": 107.561}
      }
    }
  ]
}
